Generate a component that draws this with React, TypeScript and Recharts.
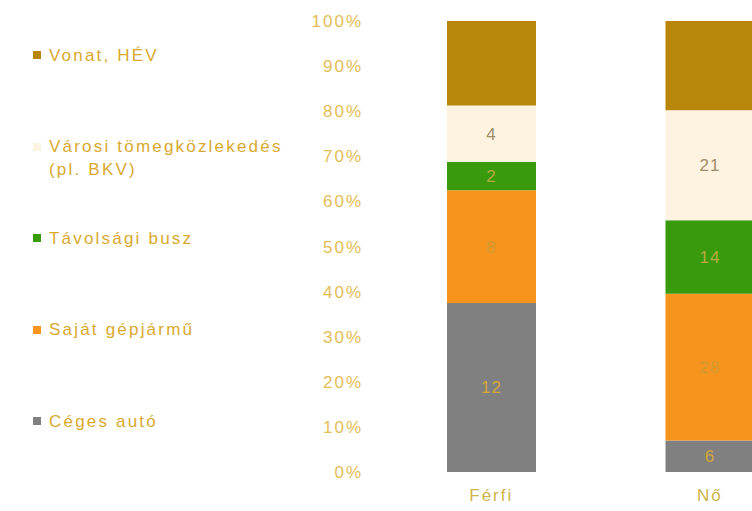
import * as React from "react"
import { Bar, BarChart, LabelList, Legend, XAxis, YAxis } from "recharts"

// counts per group, stacked to 100%
const categories = ["Férfi", "Nő"]
const cegesAuto = [12, 6]
const sajatGepjarmu = [8, 28]
const tavolsagiBusz = [2, 14]
const varosiTomeg = [4, 21]
const vonatHev = [6, 17]

const yTicks = [0, 0.1, 0.2, 0.3, 0.4, 0.5, 0.6, 0.7, 0.8, 0.9, 1]

const series = [
    { key: "ceges", name: "Céges autó", values: cegesAuto, color: "#808080", labelColor: "#D4A838", showLabel: true },
    { key: "sajat", name: "Saját gépjármű", values: sajatGepjarmu, color: "#F7941D", labelColor: "#D49A30", showLabel: true },
    { key: "tavolsagi", name: "Távolsági busz", values: tavolsagiBusz, color: "#3A9A0E", labelColor: "#B8A840", showLabel: true },
    { key: "varosi", name: "Városi tömegközlekedés\n(pl. BKV)", values: varosiTomeg, color: "#FEF3E0", labelColor: "#A08C6C", showLabel: true },
    { key: "vonat", name: "Vonat, HÉV", values: vonatHev, color: "#B8860B", labelColor: "#D4A838", showLabel: false },
]

const chartData = categories.map((name, i) => {
    const row: Record<string, string | number> = { name }
    series.forEach(s => { row[s.key] = s.values[i] })
    return row
})

const font = '"Liberation Sans", Arial, sans-serif'

// legend lists the stack top-down, so reverse the series order
const LegendContent = ({ payload }: any) => {
    const entries = payload || []
    const items = [...series].reverse()
        .map(s => entries.find((e: any) => e.dataKey === s.key))
        .filter(Boolean)
    return (
        <div style={{ fontFamily: font, fontSize: 17, letterSpacing: 2.2, color: "#D9A92E", paddingTop: 9 }}>
            {items.map((entry: any, i: number) => (
                <div key={i} style={{ height: 91.5, paddingTop: 34.5, boxSizing: "border-box", position: "relative" }}>
                    <div style={{ position: "absolute", left: 33, top: 42, width: 8, height: 8, background: entry.color }} />
                    <div style={{ marginLeft: 49, lineHeight: "23px", whiteSpace: "pre-line" }}>{entry.value}</div>
                </div>
            ))}
        </div>
    )
}

export default function App() {
    return (
        <div style={{ position: "absolute", left: 0, top: 0, width: 752, height: 511, overflow: "hidden", background: "#fff" }}>
            <BarChart
                width={819}
                height={511}
                data={chartData}
                stackOffset="expand"
                margin={{ top: 21, right: 0, bottom: 0, left: 0 }}
                barSize={89}
            >
                <XAxis
                    dataKey="name"
                    axisLine={false}
                    tickLine={false}
                    tickSize={0}
                    tickMargin={17}
                    height={39}
                    tick={{ fontSize: 17, fill: "#CDB44A", fontFamily: font, letterSpacing: 2 }}
                />
                <YAxis
                    width={382}
                    ticks={yTicks}
                    domain={[0, 1]}
                    axisLine={false}
                    tickLine={false}
                    tickSize={0}
                    tickMargin={19}
                    interval={0}
                    tickFormatter={(v: number) => `${Math.round(v * 100)}%`}
                    tick={{ fontSize: 17, fill: "#E3BD55", fontFamily: font, letterSpacing: 2 }}
                />
                <Legend
                    layout="vertical"
                    align="center"
                    verticalAlign="middle"
                    content={<LegendContent />}
                    wrapperStyle={{ left: 0, top: 0, width: 320, height: 511 }}
                />
                {series.map(s => (
                    <Bar key={s.key} dataKey={s.key} name={s.name} stackId="a" fill={s.color} isAnimationActive={false}>
                        {s.showLabel && (
                            <LabelList
                                dataKey={s.key}
                                position="center"
                                fill={s.labelColor}
                                style={{ fontSize: 17, fontFamily: font, letterSpacing: 1 }}
                            />
                        )}
                    </Bar>
                ))}
            </BarChart>
        </div>
    )
}
